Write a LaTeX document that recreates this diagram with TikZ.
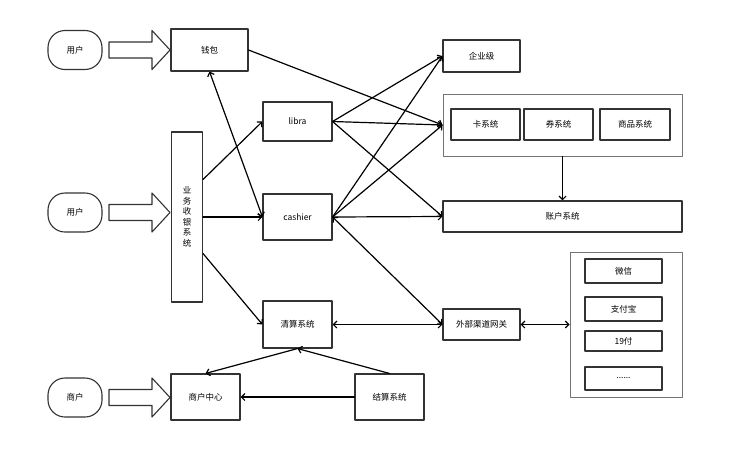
\documentclass[tikz,border=0pt]{standalone}
\usepackage{fontspec}
\setmainfont{Noto Sans CJK SC}
\usetikzlibrary{arrows.meta,calc}

\begin{document}
\begin{tikzpicture}[line cap=round,line join=round,>={Straight Barb[length=3.5pt,width=7pt]},x=1pt,y=-1pt,
    box/.style={draw=black!80,line width=1.1pt,rectangle,inner sep=0pt,font=\fontsize{8.5}{10.5}\selectfont,align=center},
    frame/.style={draw=black!55,line width=0.8pt,rectangle,inner sep=0pt},
    pill/.style={box,rounded corners=17pt,minimum width=54pt,minimum height=39pt},
    link/.style={->,line width=1.2pt},
    both/.style={<->,line width=1.2pt},
    fatarrow/.pic={\draw[line width=1.1pt,draw=black!80] (0,-8)-- (43,-8)-- (43,-19.5)-- (61,0)-- (43,19.5)-- (43,8)-- (0,8)-- cycle;}]
    \fill[white] (0,0) rectangle (751,458);
    \useasboundingbox (0,0) rectangle (751,458);
    % left column
    \node[pill] (yonghu1) at (75,50) {用户};
    \node[pill] (yonghu2) at (75,212.5) {用户};
    \node[pill] (shanghu) at (75,397.5) {商户};
    \pic at (109,50) {fatarrow};
    \pic at (109,212.5) {fatarrow};
    \pic at (109,397.5) {fatarrow};
    \node[box,minimum width=77pt,minimum height=42pt] (qianbao) at (209.5,50) {钱包};
    \node[box,minimum width=31pt,minimum height=170pt] (yewu) at (187,217) {业\\务\\收\\银\\系\\统};
    \node[box,minimum width=69pt,minimum height=46pt] (shzx) at (205.5,397) {商户中心};
    % middle column
    \node[box,minimum width=69pt,minimum height=39pt] (libra) at (297.5,121.5) {libra};
    \node[box,minimum width=69pt,minimum height=46pt] (cashier) at (297.5,217) {cashier};
    \node[box,minimum width=69pt,minimum height=47pt] (qingsuan) at (297.5,324.5) {清算系统};
    \node[box,minimum width=69pt,minimum height=46pt] (jiesuan) at (389.5,397) {结算系统};
    % right column
    \node[box,minimum width=77pt,minimum height=32pt] (qiye) at (481.5,56) {企业级};
    \node[frame,minimum width=239pt,minimum height=62pt] (xitong) at (562.5,125) {};
    \node[box,minimum width=69pt,minimum height=31pt] (ka) at (485.5,124.5) {卡系统};
    \node[box,minimum width=69pt,minimum height=31pt] (quan) at (558.5,124.5) {券系统};
    \node[box,minimum width=70pt,minimum height=31pt] (shangpin) at (635,124.5) {商品系统};
    \node[box,minimum width=239pt,minimum height=31pt] (zhanghu) at (562.5,216.5) {账户系统};
    \node[box,minimum width=77pt,minimum height=31pt] (waibu) at (481.5,324.5) {外部渠道网关};
    \node[frame,minimum width=112pt,minimum height=145pt] (qudao) at (626,324.5) {};
    \node[box,minimum width=77pt,minimum height=24pt] (weixin) at (623.5,271) {微信};
    \node[box,minimum width=77pt,minimum height=24pt] (zhifubao) at (623.5,309) {支付宝};
    \node[box,minimum width=77pt,minimum height=20pt] (shijiu) at (623.5,341) {19付};
    \node[box,minimum width=77pt,minimum height=23pt] (qita) at (623.5,378.5) {......};
    % connectors
    \draw[link] (qianbao.east)-- (xitong.west);
    \draw[link] ($(yewu.north east)+(0,48)$)-- (libra.west);
    \draw[link] (yewu.east)-- (cashier.west);
    \draw[link] ($(yewu.south east)+(0,-49)$)-- (qingsuan.west);
    \draw[both] (qianbao.south)-- (cashier.west);
    \draw[link] (libra.east)-- (qiye.west);
    \draw[link] (libra.east)-- (xitong.west);
    \draw[link] (libra.east)-- (zhanghu.west);
    \draw[link] (cashier.east)-- (qiye.west);
    \draw[link] (cashier.east)-- (xitong.west);
    \draw[link] (cashier.east)-- (zhanghu.west);
    \draw[both] (cashier.east)-- (waibu.west);
    \draw[link] (xitong.south)-- (zhanghu.north);
    \draw[both] (qingsuan.east)-- (waibu.west);
    \draw[both] (waibu.east)-- (qudao.west);
    \draw[link] (qingsuan.south)-- (shzx.north);
    \draw[link] (jiesuan.north)-- (qingsuan.south);
    \draw[link] (jiesuan.west)-- (shzx.east);
\end{tikzpicture}
\end{document}
